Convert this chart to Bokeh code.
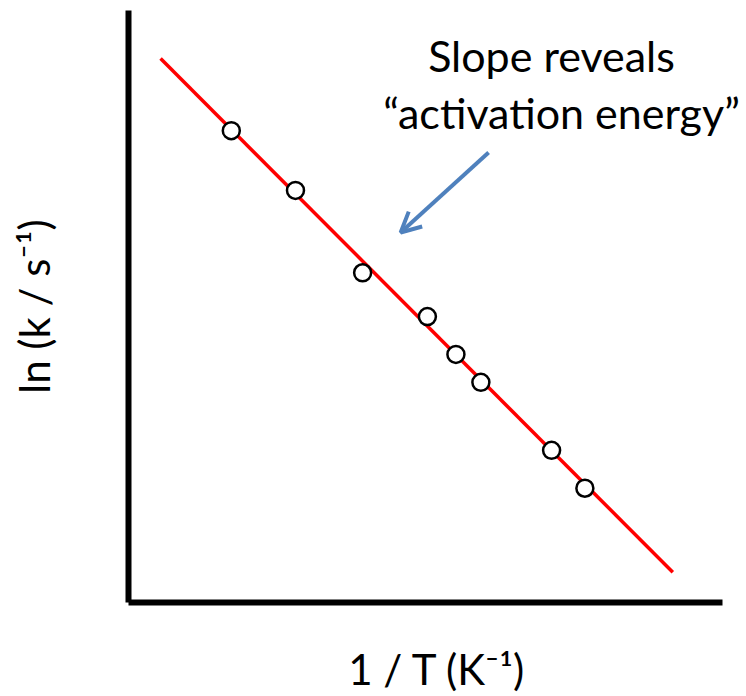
from bokeh.plotting import figure
from bokeh.models import Range1d, Label, Arrow, OpenHead, FixedTicker
from bokeh.embed import file_html
from bokeh.resources import INLINE

# Data (arbitrary units)
inv_T = [1.73, 2.81, 3.94, 5.03, 5.51, 5.93, 7.12, 7.68]
ln_k = [7.97, 6.96, 5.57, 4.83, 4.19, 3.72, 2.57, 1.93]
fit_x = [0.54, 9.16]
fit_y = [9.19, 0.51]
arrow_start = (6.06, 7.60)
arrow_end = (4.58, 6.25)
note_lines = ["Slope reveals", "\u201cactivation energy\u201d"]
x_title = "1 / T (K\u207b\u00b9)"
y_title = "ln (k / s\u207b\u00b9)"

FONT = "Lato"
FRAME_LEFT, FRAME_BOTTOM = 128, 602

p = figure(width=746, height=696, output_backend="svg", toolbar_location=None,
           x_range=Range1d(0, 10.40), y_range=Range1d(0, 10),
           min_border_left=128, min_border_right=0, min_border_top=10, min_border_bottom=94)
p.outline_line_color = None
p.grid.visible = False
for ax in (p.xaxis[0], p.yaxis[0]):
    ax.ticker = FixedTicker(ticks=[])
    ax.axis_line_width = 6
    ax.axis_line_color = "black"
    ax.major_tick_line_color = None
    ax.minor_tick_line_color = None
    ax.axis_label_text_font = FONT
    ax.axis_label_text_font_size = "42px"
    ax.axis_label_text_font_style = "normal"
    ax.axis_label_text_color = "black"
p.xaxis.bounds = (0, 10)
p.xaxis.axis_label = x_title
p.yaxis.axis_label = y_title
p.xaxis.axis_label_standoff = 41
p.yaxis.axis_label_standoff = 70

p.line(fit_x, fit_y, line_color="red", line_width=3.5)
p.scatter(inv_T, ln_k, size=17, fill_color="white", line_color="black", line_width=2.5)

p.add_layout(Arrow(end=OpenHead(size=20, line_color="#4F81BD", line_width=4),
                   x_start=arrow_start[0], y_start=arrow_start[1],
                   x_end=arrow_end[0], y_end=arrow_end[1],
                   line_color="#4F81BD", line_width=4))

p.add_layout(Label(x=551 - FRAME_LEFT, y=FRAME_BOTTOM - 55, x_units="screen", y_units="screen",
                   text=note_lines[0], text_align="center", text_baseline="alphabetic",
                   text_font=FONT, text_font_size="43px", text_color="black"))
p.add_layout(Label(x=561 - FRAME_LEFT, y=FRAME_BOTTOM - 112, x_units="screen", y_units="screen",
                   text=note_lines[1], text_align="center", text_baseline="alphabetic",
                   text_font=FONT, text_font_size="43px", text_color="black"))

open("out.html", "w").write(file_html(p, INLINE))
